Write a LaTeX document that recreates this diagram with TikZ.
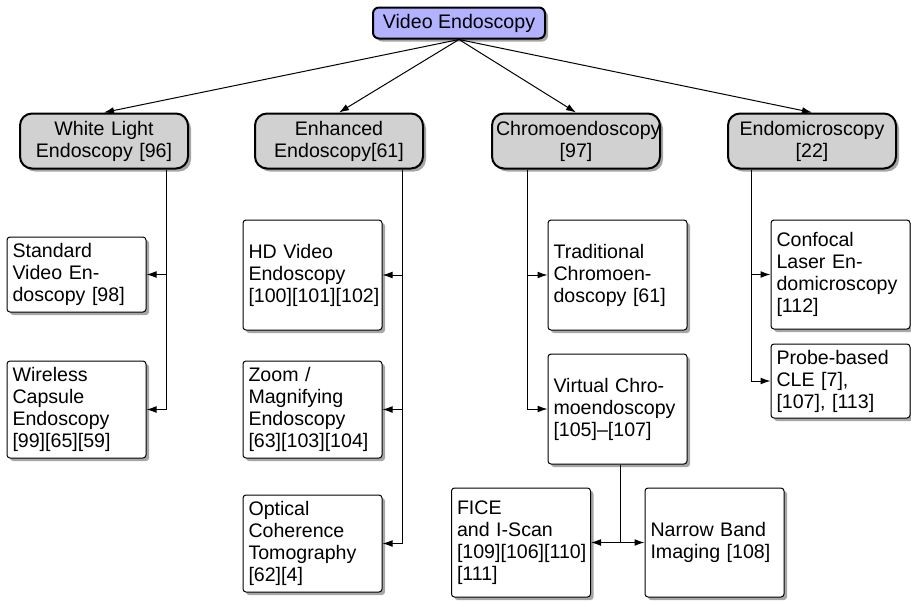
\documentclass[tikz,border=0pt]{standalone}
\usepackage{fontspec}
\setmainfont{Liberation Sans}
\usetikzlibrary{arrows.meta,shadows}

\begin{document}
\begin{tikzpicture}[x=0.5pt,y=-0.5pt]
\tikzstyle{every node}+=[font=\fontsize{9.8}{11}\selectfont]
\tikzstyle{boxshadow}=[drop shadow={shadow xshift=1.5pt,shadow yshift=-1.5pt,fill=black,opacity=0.35}]
\tikzstyle{root}=[draw,line width=1pt,rounded corners=3pt,fill=blue!30,minimum width=86pt,minimum height=15.5pt,inner sep=0pt,boxshadow]
\tikzstyle{group}=[draw,line width=1pt,rounded corners=6pt,fill=black!18,minimum width=84pt,minimum height=27.5pt,text width=80pt,align=center,inner sep=2pt,boxshadow]
\tikzstyle{leaf}=[draw,line width=0.5pt,rounded corners=1.5pt,fill=white,text width=64pt,align=left,inner sep=2.75pt,boxshadow]
\tikzstyle{link}=[-{Latex[length=5pt,width=3.4pt]},line width=0.5pt]
\useasboundingbox (0,0) rectangle (911,601);
\node[root] (video) at (459,23) {Video Endoscopy};
\node[group] (white) at (104,141) {White Light\\Endoscopy [96]};
\node[group] (enh) at (339,141) {Enhanced\\Endoscopy[61]};
\node[group] (chromo) at (576,141) {Chromoendoscopy\\{}[97]};
\node[group] (endomic) at (812,141) {Endomicroscopy\\{}[22]};
\node[leaf,minimum height=37.5pt] (stdvid) at (76.5,274.5) {Standard\\Video En-\\doscopy [98]};
\node[leaf,minimum height=48.5pt] (capsule) at (76.5,409.5) {Wireless\\Capsule\\Endoscopy\\{}[99][65][59]};
\node[leaf,minimum height=55pt] (hdvid) at (312.5,275) {HD Video\\Endoscopy\\{}[100][101][102]};
\node[leaf,minimum height=48.5pt] (zoom) at (312.5,409.5) {Zoom /\\Magnifying\\Endoscopy\\{}[63][103][104]};
\node[leaf,minimum height=48.5pt] (oct) at (312.5,543.5) {Optical\\Coherence\\Tomography\\{}[62][4]};
\node[leaf,minimum height=55pt] (tradchromo) at (617.5,275) {Traditional\\Chromoen-\\doscopy [61]};
\node[leaf,minimum height=55pt] (virtchromo) at (617.5,409) {Virtual Chro-\\moendoscopy\\{}[105]--[107]};
\node[leaf,minimum height=54.5pt] (cle) at (840.5,274.5) {Confocal\\Laser En-\\domicroscopy\\{}[112]};
\node[leaf,minimum height=37pt] (pcle) at (840.5,381) {Probe-based\\CLE [7],\\{}[107], [113]};
\node[leaf,minimum height=54.5pt] (fice) at (521,542.5) {FICE\\and I-Scan\\{}[109][106][110]\\{}[111]};
\node[leaf,minimum height=54.5pt] (nbi) at (714.5,542.5) {Narrow Band\\Imaging [108]};
\draw[link] (video.south) -- (white.north);
\draw[link] (video.south) -- (enh.north);
\draw[link] (video.south) -- (chromo.north);
\draw[link] (video.south) -- (endomic.north);
\draw[link] ([xshift=31pt]white.south) |- (stdvid.east);
\draw[link] ([xshift=31pt]white.south) |- (capsule.east);
\draw[link] ([xshift=31.5pt]enh.south) |- (hdvid.east);
\draw[link] ([xshift=31.5pt]enh.south) |- (zoom.east);
\draw[link] ([xshift=31.5pt]enh.south) |- (oct.east);
\draw[link] ([xshift=-24.5pt]chromo.south) |- (tradchromo.west);
\draw[link] ([xshift=-24.5pt]chromo.south) |- (virtchromo.west);
\draw[link] ([xshift=-30.5pt]endomic.south) |- (cle.west);
\draw[link] ([xshift=-30.5pt]endomic.south) |- (pcle.west);
\draw[link] ([xshift=1.5pt]virtchromo.south) |- (fice.east);
\draw[link] ([xshift=1.5pt]virtchromo.south) |- (nbi.west);
\end{tikzpicture}
\end{document}
